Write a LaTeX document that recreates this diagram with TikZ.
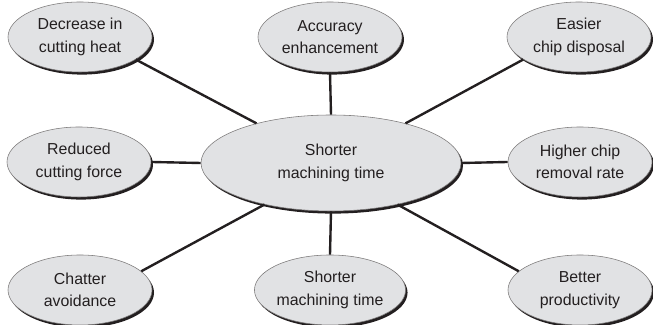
\documentclass[tikz,border=0pt]{standalone}
\usepackage{fontspec}
\setmainfont{Liberation Sans}
\usetikzlibrary{shapes.geometric, shadows}

\definecolor{bubblegray}{HTML}{E1E2E4}
\definecolor{inkblack}{HTML}{231F20}

\begin{document}
\begin{tikzpicture}[
	bubble/.style = {ellipse, draw = inkblack!60, line width = 0.4pt, fill = bubblegray,
		inner sep = 0pt, align = center, text = inkblack,
		font = \fontsize{11.3}{16}\selectfont,
		drop shadow = {shadow xshift = 0.05cm, shadow yshift = -0.065cm, fill = inkblack, opacity = 1}},
	small/.style = {bubble, minimum width = 3.6cm, minimum height = 1.75cm},
	big/.style = {bubble, minimum width = 6.5cm, minimum height = 2.4cm},
	spoke/.style = {draw = inkblack, line width = 1.7pt}
]

% Fix the canvas size

\useasboundingbox (0, 0) rectangle (16.325, 8.125);

% Central bubble

\node [big] (centre) at (8.275, 4.05) {Shorter\\machining time};

% Outer bubbles, top row

\node [small] (heat) at (2.0, 7.2) {Decrease in\\cutting heat};
\node [small] (accuracy) at (8.25, 7.2) {Accuracy\\enhancement};
\node [small] (disposal) at (14.475, 7.2) {Easier\\chip disposal};

% Outer bubbles, middle row

\node [small] (force) at (1.975, 4.075) {Reduced\\cutting force};
\node [small] (removal) at (14.5, 4.075) {Higher chip\\removal rate};

% Outer bubbles, bottom row

\node [small] (chatter) at (2.0, 0.875) {Chatter\\avoidance};
\node [small] (time) at (8.25, 0.875) {Shorter\\machining time};
\node [small] (productivity) at (14.5, 0.875) {Better\\productivity};

% Spokes from centre to outer bubbles

\draw [spoke] (heat.-22) -- (centre.152);
\draw [spoke] (accuracy.south) -- (centre.north);
\draw [spoke] (disposal.-158) -- (centre.28);
\draw [spoke] (force.east) -- (centre.west);
\draw [spoke] (centre.east) -- (removal.west);
\draw [spoke] (centre.-148) -- (chatter.17);
\draw [spoke] (centre.south) -- (time.north);
\draw [spoke] (centre.-32) -- (productivity.163);

\end{tikzpicture}
\end{document}
